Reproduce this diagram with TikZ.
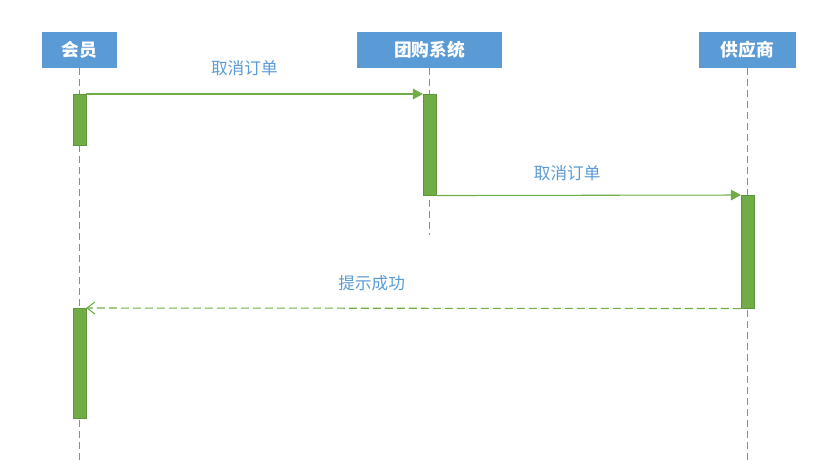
\documentclass[tikz,border=0pt]{standalone}
\usepackage{fontspec}
\setmainfont{Noto Sans CJK SC}
\usetikzlibrary{arrows.meta,calc,positioning}
\definecolor{SeqBlue}{HTML}{5B9BD5}
\definecolor{SeqGreen}{HTML}{70AD47}
\tikzset{
  every node/.style={font=\fontsize{12.5}{14}\selectfont},
  actor/.style={fill=SeqBlue, text=white, font=\fontsize{13.3}{15}\selectfont\bfseries,
    minimum height=27pt, inner sep=0pt},
  lifeline/.style={draw=SeqBlue, line width=1pt, dash pattern=on 5.25pt off 3pt},
  activation/.style={fill=SeqGreen, draw=SeqGreen!85!black, line width=0.4pt,
    minimum width=9.5pt, inner sep=0pt, anchor=north},
  call/.style={-{Triangle[length=7.5pt,width=8pt]}, draw=SeqGreen, line width=0.8pt},
  reply/.style={-{Straight Barb[length=6pt,width=9pt]}, draw=SeqGreen, line width=0.8pt,
    dash pattern=on 6pt off 3pt},
  msg/.style={text=SeqBlue},
}

\begin{document}
\begin{tikzpicture}[x=0.75pt, y=-0.75pt]
  \useasboundingbox (0,0) rectangle (834,468);
  % participants
  \node[actor, minimum width=56.25pt] (member) at (79.5,50) {会员};
  \node[actor, minimum width=108.75pt] (system) at (429.5,50) {团购系统};
  \node[actor, minimum width=72.75pt] (supplier) at (747.5,50) {供应商};
  % lifelines
  \coordinate (memberEnd) at (79.5,460);
  \coordinate (systemEnd) at (429.5,235);
  \coordinate (supplierEnd) at (747.5,460);
  \draw[lifeline] (member.south) -- (memberEnd);
  \draw[lifeline] (system.south) -- (systemEnd);
  \draw[lifeline] (supplier.south) -- (supplierEnd);
  % activation bars
  \node[activation, minimum height=38.25pt] (memberAct1) at (79.5,94) {};
  \node[activation, minimum height=75.75pt] (systemAct) at (429.5,94) {};
  \node[activation, minimum height=84.75pt] (supplierAct) at (747.5,195) {};
  \node[activation, minimum height=82.5pt] (memberAct2) at (79.5,308) {};
  % messages
  \draw[call] (memberAct1.north east) -- (systemAct.north west)
    node[msg, pos=0.47, above=10pt] {取消订单};
  \draw[call] (systemAct.south east) -- (supplierAct.north west)
    node[msg, pos=0.43, above=7pt] {取消订单};
  \draw[reply] (supplierAct.south west) -- (memberAct2.north east)
    node[msg, pos=0.564, above=9pt] {提示成功};
\end{tikzpicture}
\end{document}
